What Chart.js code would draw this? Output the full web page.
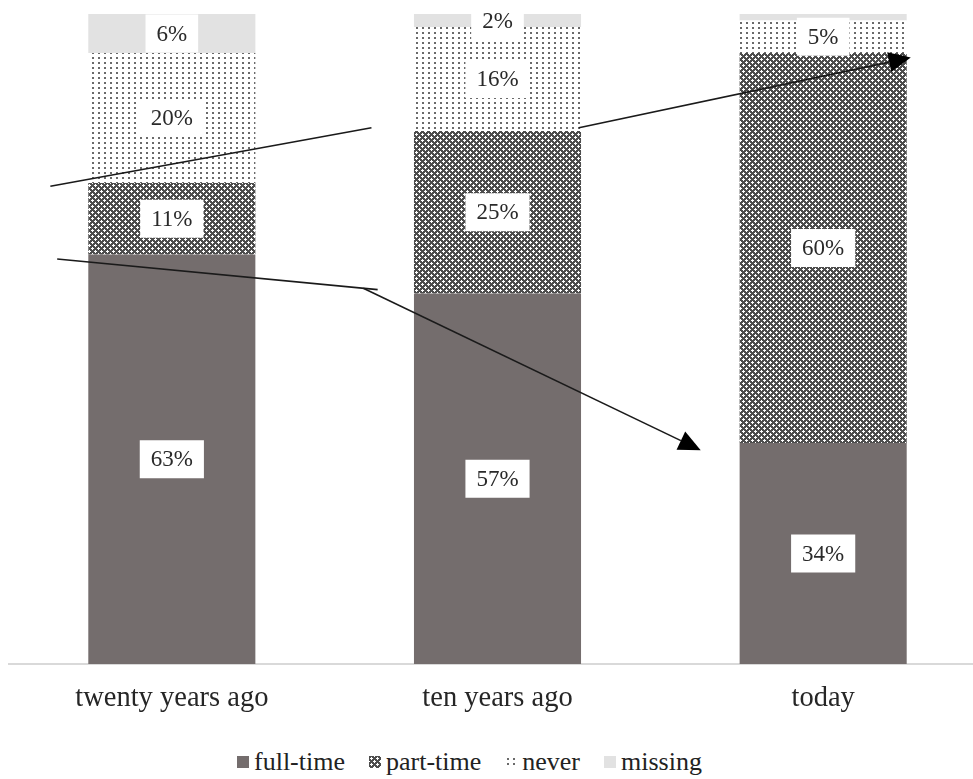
<!DOCTYPE html>
<html>
<head>
<meta charset="utf-8">
<script src="https://cdn.jsdelivr.net/npm/chart.js@4"></script>
<style>
  body { margin: 0; background: #fff; }
  #wrap { position: relative; width: 973px; height: 779px; overflow: hidden; }
  #chart { position: absolute; left: 0; top: 0; }
  #legend {
    position: absolute; left: 237px; top: 747px;
    display: flex; align-items: center;
    font: 26px "Liberation Serif", serif; color: #222;
  }
  .item { display: flex; align-items: center; margin-right: 24px; }
  .sw { width: 12px; height: 12px; margin-right: 5px; }
</style>
</head>
<body>
<div id="wrap">
  <canvas id="chart" width="992" height="724"></canvas>
  <div id="legend"></div>
</div>
<script>
// DATA
const categories = ["twenty years ago", "ten years ago", "today"];
const seriesNames = ["full-time", "part-time", "never", "missing"];
const fullTime = [63, 57, 34];
const partTime = [11, 25, 60];
const never = [20, 16, 5];
const missing = [6, 2, 1];

// arrows drawn over the bars, in axis units: [category index, percent]
const arrows = [
    { from: [-0.373, 73.5], to: [0.613, 82.5], head: false },
    { from: [1.25, 82.5], to: [2.269, 93.3], head: true },
    { from: [-0.352, 62.3], to: [0.632, 57.6], head: false },
    { from: [0.588, 57.8], to: [1.624, 32.9], head: true }
];

// PATTERNS
function crossPattern() {
    const c = document.createElement("canvas");
    c.width = 6; c.height = 6;
    const g = c.getContext("2d");
    g.fillStyle = "#4d4d4d";
    g.fillRect(0, 0, 6, 6);
    g.fillStyle = "#fff";
    [[2, 2], [5, 5]].forEach(([x, y]) => {
        g.fillRect(x - 1, y, 3, 1);
        g.fillRect(x, y - 1, 1, 3);
        g.fillRect(x - 1 + 6, y, 3, 1);
        g.fillRect(x - 1 - 6, y, 3, 1);
        g.fillRect(x, y - 1 + 6, 1, 3);
        g.fillRect(x, y - 1 - 6, 1, 3);
    });
    return c;
}

function dotPattern() {
    const c = document.createElement("canvas");
    c.width = 6; c.height = 5;
    const g = c.getContext("2d");
    g.fillStyle = "#fff";
    g.fillRect(0, 0, 6, 5);
    g.fillStyle = "#6a6a6a";
    g.fillRect(2, 2, 2, 2);
    return c;
}

const tmp = document.createElement("canvas").getContext("2d");
const crossTile = crossPattern();
const dotTile = dotPattern();
const fills = [
    "#746d6d",
    tmp.createPattern(crossTile, "repeat"),
    tmp.createPattern(dotTile, "repeat"),
    "#e2e2e2"
];
const swatches = [
    "#746d6d",
    "url(" + crossTile.toDataURL() + ")",
    "url(" + dotTile.toDataURL() + ")",
    "#e2e2e2"
];

// LABELS + ARROWS
const overlay = {
    id: "overlay",
    afterDatasetsDraw(chart) {
        const ctx = chart.ctx;
        const xs = chart.scales.x, ys = chart.scales.y;

        ctx.save();
        ctx.strokeStyle = "#1a1a1a";
        ctx.fillStyle = "#000";
        ctx.lineWidth = 1.6;
        arrows.forEach(a => {
            const x1 = xs.getPixelForValue(a.from[0]), y1 = ys.getPixelForValue(a.from[1]);
            const x2 = xs.getPixelForValue(a.to[0]), y2 = ys.getPixelForValue(a.to[1]);
            const ang = Math.atan2(y2 - y1, x2 - x1);
            const len = 22, half = 10;
            const ex = a.head ? x2 - Math.cos(ang) * len : x2;
            const ey = a.head ? y2 - Math.sin(ang) * len : y2;
            ctx.beginPath();
            ctx.moveTo(x1, y1);
            ctx.lineTo(ex, ey);
            ctx.stroke();
            if (a.head) {
                ctx.beginPath();
                ctx.moveTo(x2, y2);
                ctx.lineTo(ex + Math.sin(ang) * half, ey - Math.cos(ang) * half);
                ctx.lineTo(ex - Math.sin(ang) * half, ey + Math.cos(ang) * half);
                ctx.closePath();
                ctx.fill();
            }
        });

        ctx.font = '23px "Liberation Serif", serif';
        ctx.textAlign = "center";
        ctx.textBaseline = "middle";
        chart.data.datasets.forEach((ds, i) => {
            chart.getDatasetMeta(i).data.forEach((bar, j) => {
                const v = ds.data[j];
                if (v < 2) return;
                const cy = (bar.y + bar.base) / 2;
                const txt = v + "%";
                const w = ctx.measureText(txt).width + 22;
                const h = 38;
                ctx.fillStyle = "#fff";
                ctx.fillRect(bar.x - w / 2, cy - h / 2, w, h);
                ctx.fillStyle = "#2a2a2a";
                ctx.fillText(txt, bar.x, cy + 1);
            });
        });
        ctx.restore();
    }
};

const series = [fullTime, partTime, never, missing];

new Chart(document.getElementById("chart"), {
    type: "bar",
    data: {
        labels: categories,
        datasets: series.map((d, i) => ({
            label: seriesNames[i],
            data: d,
            backgroundColor: fills[i],
            borderWidth: 0,
            barPercentage: 1,
            categoryPercentage: 0.513
        }))
    },
    options: {
        responsive: false,
        animation: false,
        layout: { padding: { left: 9, right: 6, top: 14, bottom: 0 } },
        plugins: { legend: { display: false }, tooltip: { enabled: false } },
        scales: {
            x: {
                stacked: true,
                grid: { display: false, drawTicks: false },
                border: { display: true, color: "#d9d9d9", width: 2 },
                ticks: {
                    color: "#262626",
                    padding: 17,
                    font: { family: "Liberation Serif", size: 28.5 }
                },
                afterFit: s => { s.height = 60; }
            },
            y: {
                stacked: true,
                display: false,
                min: 0,
                max: 100
            }
        }
    },
    plugins: [overlay]
});

// LEGEND
const legend = document.getElementById("legend");
seriesNames.forEach((name, i) => {
    const item = document.createElement("div");
    item.className = "item";
    const sw = document.createElement("div");
    sw.className = "sw";
    sw.style.background = swatches[i];
    item.appendChild(sw);
    item.appendChild(document.createTextNode(name));
    legend.appendChild(item);
});
</script>
</body>
</html>
